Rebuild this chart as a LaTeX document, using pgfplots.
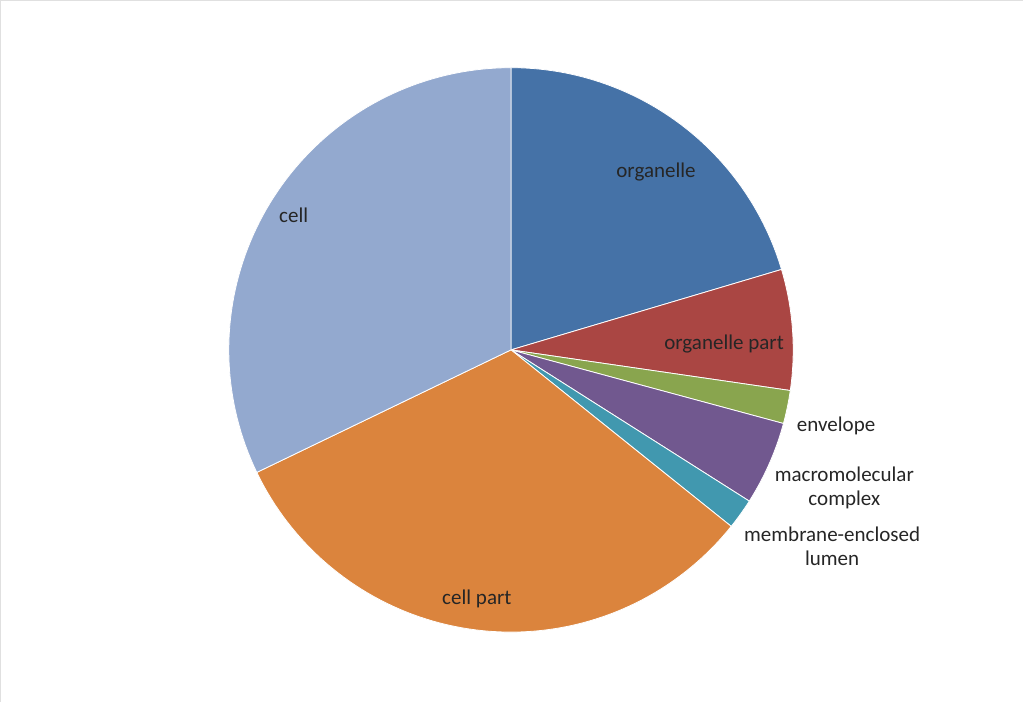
\documentclass[border=0pt]{standalone}
\usepackage{pgfplots}
\pgfplotsset{compat=1.18}
\usepackage{fontspec}
\setmainfont{Carlito}
\definecolor{cOrg}{HTML}{4572A7}
\definecolor{cOrgP}{HTML}{AA4643}
\definecolor{cEnv}{HTML}{89A54E}
\definecolor{cMac}{HTML}{71588F}
\definecolor{cMem}{HTML}{4198AF}
\definecolor{cCellP}{HTML}{DB843D}
\definecolor{cCell}{HTML}{93A9CF}
% shares in percent
\pgfmathsetmacro{\pA}{20.4}  % organelle
\pgfmathsetmacro{\pB}{6.9}   % organelle part
\pgfmathsetmacro{\pC}{1.9}   % envelope
\pgfmathsetmacro{\pD}{4.8}   % macromolecular complex
\pgfmathsetmacro{\pE}{1.75}  % membrane-enclosed lumen
\pgfmathsetmacro{\pF}{32.1}  % cell part
\pgfmathsetmacro{\pG}{32.15} % cell
\pgfmathsetmacro{\aA}{90}
\pgfmathsetmacro{\aB}{\aA-3.6*\pA}
\pgfmathsetmacro{\aC}{\aB-3.6*\pB}
\pgfmathsetmacro{\aD}{\aC-3.6*\pC}
\pgfmathsetmacro{\aE}{\aD-3.6*\pD}
\pgfmathsetmacro{\aF}{\aE-3.6*\pE}
\pgfmathsetmacro{\aG}{\aF-3.6*\pF}
\pgfmathsetmacro{\aH}{\aG-3.6*\pG}
\begin{document}
\begin{tikzpicture}
\begin{axis}[
  scale only axis, width=512pt, height=351.5pt,
  xmin=-1.8156, xmax=1.8156, ymin=-1.2482, ymax=1.2447,
  axis lines=none, clip=false,
  every axis plot/.append style={data cs=polar, samples=80, draw=white, line width=0.4pt},
  font=\fontsize{10.5}{12}\selectfont,
]
\addplot[fill=cOrg, domain=\aB:\aA] (x,1) -- (axis cs:0,0) -- cycle;
\addplot[fill=cOrgP, domain=\aC:\aB] (x,1) -- (axis cs:0,0) -- cycle;
\addplot[fill=cEnv, domain=\aD:\aC] (x,1) -- (axis cs:0,0) -- cycle;
\addplot[fill=cMac, domain=\aE:\aD] (x,1) -- (axis cs:0,0) -- cycle;
\addplot[fill=cMem, domain=\aF:\aE] (x,1) -- (axis cs:0,0) -- cycle;
\addplot[fill=cCellP, domain=\aG:\aF] (x,1) -- (axis cs:0,0) -- cycle;
\addplot[fill=cCell, domain=\aH:\aG] (x,1) -- (axis cs:0,0) -- cycle;
\draw[black!12, line width=0.6pt] (axis cs:-1.8085,-1.2482) -- (axis cs:-1.8085,1.2376) -- (axis cs:1.8156,1.2376);
\begin{scope}[every node/.style={text=black!85, align=center, inner sep=0pt}]
\node at (axis cs:0.514,0.630) {organelle};
\node at (axis cs:0.755,0.020) {organelle part};
\node at (axis cs:1.152,-0.270) {envelope};
\node[font=\fontsize{10.5}{12.2}\selectfont] at (axis cs:1.181,-0.490) {macromolecular\\complex};
\node[font=\fontsize{10.5}{12.2}\selectfont] at (axis cs:1.138,-0.696) {membrane-enclosed\\lumen};
\node at (axis cs:-0.121,-0.884) {cell part};
\node at (axis cs:-0.770,0.478) {cell};
\end{scope}
\end{axis}
\end{tikzpicture}
\end{document}
